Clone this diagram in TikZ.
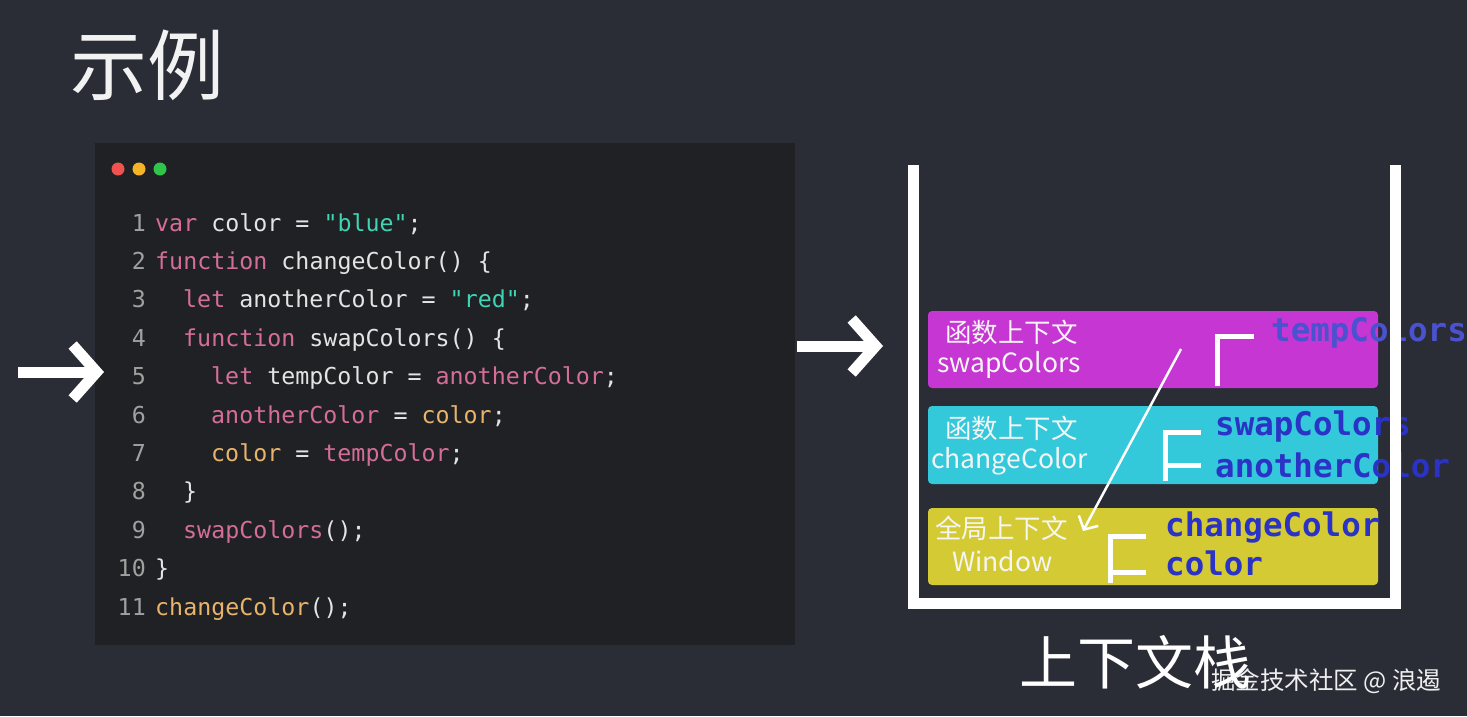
\documentclass[tikz,border=0pt]{standalone}
\usepackage{fontspec}
\setmainfont{Noto Sans CJK SC}
\setmonofont{DejaVu Sans Mono}
\newfontfamily\cjk{Noto Sans CJK SC}
\usetikzlibrary{arrows.meta}
\definecolor{bg}{HTML}{2A2C36}
\definecolor{panel}{HTML}{202124}
\definecolor{kwc}{HTML}{D46E98}
\definecolor{strc}{HTML}{3FD4B4}
\definecolor{orc}{HTML}{E8B46C}
\definecolor{txc}{HTML}{E4E4E4}
\definecolor{numc}{HTML}{A0A0A0}
\definecolor{mag}{HTML}{C536D2}
\definecolor{cya}{HTML}{33C8DA}
\definecolor{yel}{HTML}{D4CB34}
\definecolor{blu}{HTML}{2A33C6}
\definecolor{dred}{HTML}{F0524F}
\definecolor{dyel}{HTML}{F5B428}
\definecolor{dgrn}{HTML}{2FC44A}
\newcommand\cK[1]{\textcolor{kwc}{#1}}
\newcommand\cS[1]{\textcolor{strc}{#1}}
\newcommand\cO[1]{\textcolor{orc}{#1}}
\tikzset{
  codeline/.style={anchor=base west, inner sep=0pt, text=txc, font=\ttfamily\fontsize{23.3}{28}\selectfont},
  lnum/.style={anchor=base east, inner sep=0pt, text=numc, font=\ttfamily\fontsize{23.3}{28}\selectfont},
  ctxbox/.style={rounded corners=4pt, draw=none},
  ctxlabel/.style={anchor=west, inner sep=0pt, text=white!92!gray, align=left, font=\cjk\fontsize{26.5}{33}\selectfont},
  vartext/.style={anchor=west, inner sep=0pt, text=blu, align=left, font=\ttfamily\bfseries\fontsize{32.5}{36}\selectfont},
  bracket/.style={draw=white, line width=5pt},
  bigarrow/.style={draw=white, line width=11pt, -{Straight Barb[length=24pt,width=54pt,line width=11pt]}},
  wall/.style={draw=white, line width=11pt},
  dot/.style={circle, inner sep=0pt, minimum size=13pt, draw=none}
}
\begin{document}
\begin{tikzpicture}[x=1pt,y=-1pt]
\fill[bg] (0,0) rectangle (1467,716);
\useasboundingbox (0,0) rectangle (1467,716);

% title
\node[anchor=west, inner sep=0pt, text=white!90!gray, font=\cjk\fontsize{77}{82}\selectfont] (title) at (70,65) {示例};

% code panel
\fill[panel] (95,143) rectangle (795,645);
\node[dot, fill=dred] (d1) at (118,169) {};
\node[dot, fill=dyel] (d2) at (139,169) {};
\node[dot, fill=dgrn] (d3) at (160,169) {};

\foreach \n [count=\i] in {1,...,11} {
  \node[lnum] (n\i) at (146,{223+8+(\i-1)*38.4}) {\n};
}
\node[codeline] (l1) at (155,231) {\cK{var} color = \cS{"blue"};};
\node[codeline] (l2) at (155,269.4) {\cK{function} changeColor() \{};
\node[codeline] (l3) at (183,307.8) {\cK{let} anotherColor = \cS{"red"};};
\node[codeline] (l4) at (183,346.2) {\cK{function} swapColors() \{};
\node[codeline] (l5) at (211,384.6) {\cK{let} tempColor = \cK{anotherColor};};
\node[codeline] (l6) at (211,423) {\cK{anotherColor} = \cO{color};};
\node[codeline] (l7) at (211,461.4) {\cO{color} = \cK{tempColor};};
\node[codeline] (l8) at (183,499.8) {\}};
\node[codeline] (l9) at (183,538.2) {\cK{swapColors}();};
\node[codeline] (l10) at (155,576.6) {\}};
\node[codeline] (l11) at (155,615) {\cO{changeColor}();};

% arrows
\coordinate (a1s) at (18,372);
\coordinate (a1e) at (104,372);
\draw[bigarrow] (a1s) -- (a1e);
\coordinate (a2s) at (797,346);
\coordinate (a2e) at (883,346);
\draw[bigarrow] (a2s) -- (a2e);

% context boxes
\fill[ctxbox, fill=mag] (928,311) rectangle (1378,388);
\fill[ctxbox, fill=cya] (928,406) rectangle (1378,484);
\fill[ctxbox, fill=yel] (928,508) rectangle (1378,585);

\node[ctxlabel] (t1) at (945,332) {函数上下文};
\node[ctxlabel] (t1b) at (937,365) {swapColors};
\node[ctxlabel] (t2) at (945,428) {函数上下文};
\node[ctxlabel] (t2b) at (931,461) {changeColor};
\node[ctxlabel] (t3) at (935,528) {全局上下文};
\node[ctxlabel] (t3b) at (952,561) {Window};

% variables
\node[vartext, text=blu!85!white] (v1) at (1271,333) {tempColors};
\node[vartext] (v2) at (1215,427) {swapColors};
\node[vartext] (v3) at (1215,465) {anotherColor};
\node[vartext] (v4) at (1165,528) {changeColor};
\node[vartext] (v5) at (1165,563) {color};

% brackets
\draw[bracket] (1254,336) -- (1217,336) -- (1217,386);
\draw[bracket] (1201,432) -- (1165,432) -- (1165,481);
\draw[bracket] (1165,465) -- (1201,465);
\draw[bracket] (1146,536) -- (1110,536) -- (1110,583);
\draw[bracket] (1110,572) -- (1146,572);

% scope chain arrow
\coordinate (sc1) at (1181,349);
\coordinate (sc2) at (1083,531);
\draw[white, line width=2.5pt, -{Straight Barb[length=10pt,width=22pt,line width=2.5pt]}] (sc1) -- (sc2);

% stack walls
\coordinate (w1) at (913.5,165);
\coordinate (w2) at (913.5,603.5);
\coordinate (w3) at (1395.5,603.5);
\coordinate (w4) at (1395.5,165);
\draw[wall, line join=miter] (w1) -- (w2) -- (w3) -- (w4);

% stack label and watermark
\node[anchor=center, inner sep=0pt, text=white, font=\cjk\fontsize{58}{64}\selectfont] (stk) at (1135,662) {上下文栈};
\node[anchor=west, inner sep=0pt, text=white, opacity=0.92, font=\cjk\fontsize{24.5}{28}\selectfont] (wm) at (1211,681) {掘金技术社区 @ 浪遏};
\end{tikzpicture}
\end{document}
